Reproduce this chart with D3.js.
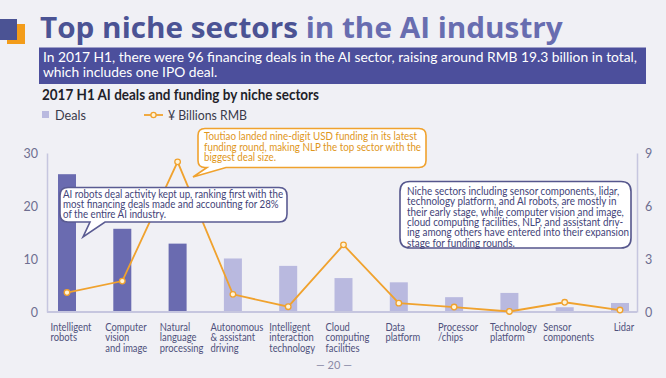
<!DOCTYPE html>
<html><head><meta charset="utf-8">
<script src="https://cdn.jsdelivr.net/npm/d3@7"></script>
<style>html,body{margin:0;padding:0;background:#f0f0f5;} svg{display:block}</style>
</head><body><svg id="c" width="666" height="378"></svg>
<script>
// ---------------- DATA ----------------
const categories = ["Intelligent robots","Computer vision and image","Natural language processing",
  "Autonomous & assistant driving","Intelligent interaction technology","Cloud computing facilities",
  "Data platform","Processor /chips","Technology platform","Sensor components","Lidar"];
const categoryLabelLines = [["Intelligent","robots"],["Computer","vision","and image"],["Natural","language","processing"],
  ["Autonomous","& assistant","driving"],["Intelligent","interaction","technology"],["Cloud","computing","facilities"],
  ["Data","platform"],["Processor","/chips"],["Technology","platform"],["Sensor","components"],["Lidar"]];
const deals = [26, 15.7, 12.9, 10.1, 8.7, 6.4, 5.6, 2.8, 3.6, 0.9, 1.7];
const funding = [1.1, 1.75, 8.5, 1.0, 0.3, 3.8, 0.5, 0.28, 0.03, 0.55, 0.11];
const highlighted = [true, true, true, false, false, false, false, false, false, false, false];
const dealsTicks = [0, 10, 20, 30];
const fundingTicks = [0, 3, 6, 9];
const titleStrong = "Top niche sectors";
const titleRest = " in the AI industry";
const introLines = ["In 2017 H1, there were 96 financing deals in the AI sector, raising around RMB 19.3 billion in total,",
  "which includes one IPO deal."];
const chartTitle = "2017 H1 AI deals and funding by niche sectors";
const legendLabels = ["Deals", "¥ Billions RMB"];
const noteRobots = ["AI robots deal activity kept up, ranking first with the",
  "most financing deals made and accounting for 28%", "of the entire AI industry."];
const noteToutiao = ["Toutiao landed nine-digit USD funding in its latest",
  "funding round, making NLP the top sector with the", "biggest deal size."];
const noteNiche = ["Niche sectors including sensor components, lidar,",
  "technology platform, and AI robots, are mostly in",
  "their early stage, while computer vision and image,",
  "cloud computing facilities, NLP, and assistant driv-",
  "ing among others have entered into their expansion",
  "stage for funding rounds."];
const pageLabel = "— 20 —";

// ---------------- STYLE ----------------
const FONT = "Lato, 'Open Sans', sans-serif";
const C = {bg:"#f0f0f5", dark:"#6a6bb0", light:"#b9b9df", orange:"#f0a22e", axis:"#c6c6df",
  tick:"#6e6e90", label:"#4f507c", title1:"#4b5394", title2:"#686db0", box:"#4c4f9c", note:"#424378"};

const svg = d3.select("#c");
svg.append("rect").attr("width",666).attr("height",378).attr("fill",C.bg);

function fitBlock(sel, target){
  const w = sel.nodes().map(n=>n.getComputedTextLength());
  const r = target / d3.max(w);
  sel.each(function(d,i){ d3.select(this).attr("textLength", w[i]*r).attr("lengthAdjust","spacingAndGlyphs"); });
}

// ---- header ----
svg.append("rect").attr("x",7).attr("y",24).attr("width",18).attr("height",20).attr("fill","#f39c1a");
svg.append("rect").attr("x",0).attr("y",19).attr("width",17).attr("height",21).attr("fill","#4b5394");
const tg = svg.append("g");
const tt = tg.append("text").attr("x",0).attr("y",0).attr("font-family","'Open Sans', sans-serif")
  .attr("font-weight",700).attr("font-size",28);
tt.append("tspan").attr("fill",C.title1).text(titleStrong);
tt.append("tspan").attr("fill",C.title2).text(titleRest);
{ const w = tt.node().getComputedTextLength(); tg.attr("transform",`translate(40,38) scale(${523/w},1)`); }

svg.append("rect").attr("x",39).attr("y",47.5).attr("width",607).attr("height",36.5).attr("fill",C.box);
const intro = svg.selectAll("text.intro").data(introLines).join("text").attr("class","intro")
  .attr("x",43).attr("y",(d,i)=>62+i*14.5).attr("fill","#fff").attr("font-family",FONT)
  .attr("font-size",13.8).text(d=>d);
fitBlock(intro, 594);

const ct = svg.append("text").attr("x",42).attr("y",100).attr("font-family",FONT).attr("font-weight",700)
  .attr("font-size",14.5).attr("fill","#1f1f2a").text(chartTitle);
fitBlock(ct, 277);

// legend
svg.append("rect").attr("x",42).attr("y",111).attr("width",7).attr("height",7).attr("fill",C.light);
const l1 = svg.append("text").attr("x",55).attr("y",119.5).attr("font-family",FONT).attr("font-size",13)
  .attr("fill","#3a3a4a").text(legendLabels[0]);
fitBlock(l1, 31);
svg.append("line").attr("x1",144).attr("x2",163).attr("y1",115).attr("y2",115).attr("stroke",C.orange).attr("stroke-width",1.8);
svg.append("circle").attr("cx",153.5).attr("cy",115).attr("r",2.6).attr("fill","#fff3d6").attr("stroke",C.orange).attr("stroke-width",1.3);
const l2 = svg.append("text").attr("x",168).attr("y",119.5).attr("font-family",FONT).attr("font-size",13)
  .attr("fill","#3a3a4a").text(legendLabels[1]);
fitBlock(l2, 79);

// ---- scales ----
const x = d3.scalePoint().domain(categories).range([67, 620]);
const yL = d3.scaleLinear().domain([0, 30]).range([312, 153]);
const yR = d3.scaleLinear().domain([0, 9]).range([312, 153]);
const barW = 18;

// axes
const axL = svg.append("g").attr("transform","translate(47,0)")
  .call(d3.axisLeft(yL).tickValues(dealsTicks).tickSize(0).tickPadding(9));
const axR = svg.append("g").attr("transform","translate(637,0)")
  .call(d3.axisRight(yR).tickValues(fundingTicks).tickSize(0).tickPadding(8));
[axL, axR].forEach(a=>{
  a.select(".domain").attr("stroke",C.axis).attr("stroke-width",1.5);
  a.selectAll("text").attr("font-family",FONT).attr("font-size",12.5).attr("fill",C.tick);
});

// bars
svg.append("g").selectAll("rect").data(categories).join("rect")
  .attr("x",d=>x(d)-barW/2).attr("width",barW)
  .attr("y",(d,i)=>yL(deals[i])).attr("height",(d,i)=>yL(0)-yL(deals[i]))
  .attr("fill",(d,i)=>highlighted[i]?C.dark:C.light);
svg.append("line").attr("x1",47).attr("x2",637).attr("y1",yL(0)).attr("y2",yL(0))
  .attr("stroke",C.axis).attr("stroke-width",2);

// x labels (left-aligned lines, block roughly centred under each bar)
const xl = svg.append("g").selectAll("g").data(categories).join("g");
xl.each(function(d,i){
  d3.select(this).selectAll("text").data(categoryLabelLines[i]).join("text")
    .attr("x",0).attr("y",(s,j)=>330.5+j*10.7).attr("font-family",FONT).attr("font-size",11.2)
    .attr("fill",C.label).text(s=>s);
});
{
  let ref = 0;
  xl.selectAll("text").each(function(s){ if(s==="Autonomous") ref = this.getComputedTextLength(); });
  const r = 53 / ref;
  xl.each(function(d){
    const g = d3.select(this);
    const t = g.selectAll("text");
    const ws = t.nodes().map(n=>n.getComputedTextLength());
    t.attr("textLength",(s,j)=>ws[j]*r).attr("lengthAdjust","spacingAndGlyphs");
    g.attr("transform",`translate(${x(d)+4-d3.max(ws)*r/2},0)`);
  });
}

// line
const lineG = svg.append("g");
lineG.append("path").datum(categories)
  .attr("d", d3.line().x(d=>x(d)).y((d,i)=>yR(funding[i])))
  .attr("fill","none").attr("stroke",C.orange).attr("stroke-width",1.8);
lineG.selectAll("circle").data(categories).join("circle")
  .attr("cx",d=>x(d)).attr("cy",(d,i)=>yR(funding[i])).attr("r",2.8)
  .attr("fill","#fff3d6").attr("stroke",C.orange).attr("stroke-width",1.3);

// callouts
function calloutPath(x0,y0,x1,y1,r,tail){
  let p = `M${x0+r},${y0}H${x1-r}Q${x1},${y0} ${x1},${y0+r}V${y1-r}Q${x1},${y1} ${x1-r},${y1}`;
  if(tail) p += `H${tail.b1}L${tail.tx},${tail.ty}L${tail.b0},${y1}`;
  p += `H${x0+r}Q${x0},${y1} ${x0},${y1-r}V${y0+r}Q${x0},${y0} ${x0+r},${y0}Z`;
  return p;
}
function callout(lines, box, tail, stroke, color, tx, ty0, lh, fs, target){
  svg.append("path").attr("d",calloutPath(box[0],box[1],box[2],box[3],box[4],tail))
    .attr("fill","#fff").attr("stroke",stroke).attr("stroke-width",1.6);
  const t = svg.append("g").selectAll("text").data(lines).join("text")
    .attr("x",tx).attr("y",(d,i)=>ty0+i*lh).attr("font-family",FONT).attr("font-size",fs)
    .attr("fill",color).text(d=>d);
  fitBlock(t, target);
}
callout(noteToutiao,[198,128.5,426,167.5,7],{b0:207,b1:226,tx:193,ty:177},"#f0a22e","#e0961a",204,140,10.6,10.8,217);
callout(noteRobots,[60,187.5,287,222,8],{b0:90,b1:105,tx:83,ty:237},"#5a5b92",C.note,63,198,10,10.8,220);
callout(noteNiche,[400,181.5,631,248,10],null,"#55568c",C.note,407,195,10.3,10.8,222);

svg.append("text").attr("x",334).attr("y",369).attr("text-anchor","middle").attr("font-family",FONT)
  .attr("font-size",11).attr("fill","#8a8aa6").text(pageLabel);
</script></body></html>
